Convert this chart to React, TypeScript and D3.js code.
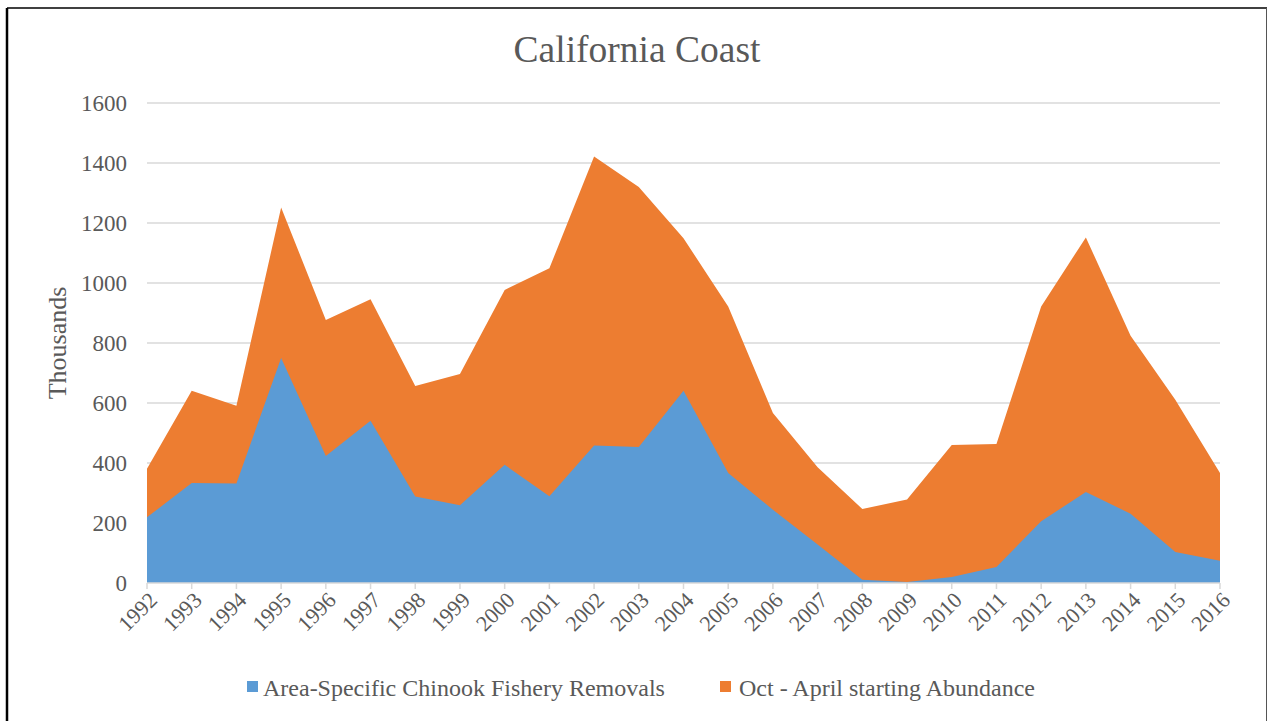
import React from "react";
import * as d3 from "d3";

const years = [
  "1992","1993","1994","1995","1996","1997","1998","1999","2000","2001","2002","2003",
  "2004","2005","2006","2007","2008","2009","2010","2011","2012","2013","2014","2015","2016",
];
const abundance = [
  381, 641, 591, 1252, 877, 946, 657, 697, 977, 1049, 1422, 1320,
  1149, 922, 567, 386, 247, 278, 460, 463, 922, 1152, 824, 611, 367,
];
const removals = [
  219, 333, 332, 750, 423, 541, 288, 259, 394, 289, 458, 453,
  641, 367, 244, 128, 11, 3, 20, 53, 206, 303, 231, 103, 74,
];
const yTicks = [0, 200, 400, 600, 800, 1000, 1200, 1400, 1600];
const seriesNames = ["Area-Specific Chinook Fishery Removals", "Oct - April starting Abundance"];

const W = 1268;
const H = 721;
const left = 147;
const right = 1220;
const top = 103;
const bottom = 583;
const FONT = "'Liberation Serif', 'Times New Roman', serif";
const TEXT = "#595959";
const BLUE = "#5B9BD5";
const ORANGE = "#ED7D31";
const GRID = "#D9D9D9";

export default function App() {
  const x = d3.scalePoint<string>().domain(years).range([left, right]);
  const y = d3.scaleLinear().domain([0, 1600]).range([bottom, top]);

  const areaGen = (vals: number[]) =>
    d3
      .area<number>()
      .x((_, i) => x(years[i]) as number)
      .y0(y(0))
      .y1((d) => y(d))(vals) as string;

  return (
    <svg
      width={W}
      height={H}
      style={{ position: "absolute", left: 0, top: 0, background: "#fff" }}
    >
      <rect x={0} y={0} width={W} height={H} fill="#fff" />
      {/* outer frame */}
      <line x1={7} y1={8} x2={1267} y2={8} stroke="#000" strokeWidth={1.5} />
      <line x1={7} y1={8} x2={7} y2={H} stroke="#000" strokeWidth={2.5} />
      <line x1={1266.5} y1={8} x2={1266.5} y2={H} stroke="#555" strokeWidth={1} />

      <text
        x={637}
        y={62}
        textAnchor="middle"
        fontFamily={FONT}
        fontSize={37.5}
        fill={TEXT}
      >
        California Coast
      </text>

      {yTicks.map((t) => (
        <g key={t}>
          {t > 0 && (
            <line x1={left} x2={right} y1={y(t)} y2={y(t)} stroke={GRID} strokeWidth={1.5} />
          )}
          <text
            x={127}
            y={y(t)}
            dy="0.35em"
            textAnchor="end"
            fontFamily={FONT}
            fontSize={23}
            fill={TEXT}
          >
            {t}
          </text>
        </g>
      ))}

      <text
        transform={`translate(66, 343) rotate(-90)`}
        textAnchor="middle"
        fontFamily={FONT}
        fontSize={26}
        fill={TEXT}
      >
        Thousands
      </text>

      <path d={areaGen(abundance)} fill={ORANGE} />
      <path d={areaGen(removals)} fill={BLUE} />

      <line x1={left} x2={right} y1={bottom} y2={bottom} stroke={GRID} strokeWidth={1.5} />
      {years.map((yr) => (
        <g key={yr}>
          <line
            x1={x(yr) as number}
            x2={x(yr) as number}
            y1={bottom}
            y2={bottom + 6}
            stroke={GRID}
            strokeWidth={1.5}
          />
          <text
            transform={`translate(${(x(yr) as number) + 6}, ${bottom + 13}) rotate(-45)`}
            textAnchor="end"
            dy="0.35em"
            fontFamily={FONT}
            fontSize={22}
            fill={TEXT}
          >
            {yr}
          </text>
        </g>
      ))}

      {/* legend */}
      <rect x={247} y={681} width={11} height={11} fill={BLUE} />
      <text x={263} y={696} fontFamily={FONT} fontSize={24} fill={TEXT}>
        {seriesNames[0]}
      </text>
      <rect x={720} y={681} width={11} height={11} fill={ORANGE} />
      <text x={739} y={696} fontFamily={FONT} fontSize={24} fill={TEXT}>
        {seriesNames[1]}
      </text>
    </svg>
  );
}
